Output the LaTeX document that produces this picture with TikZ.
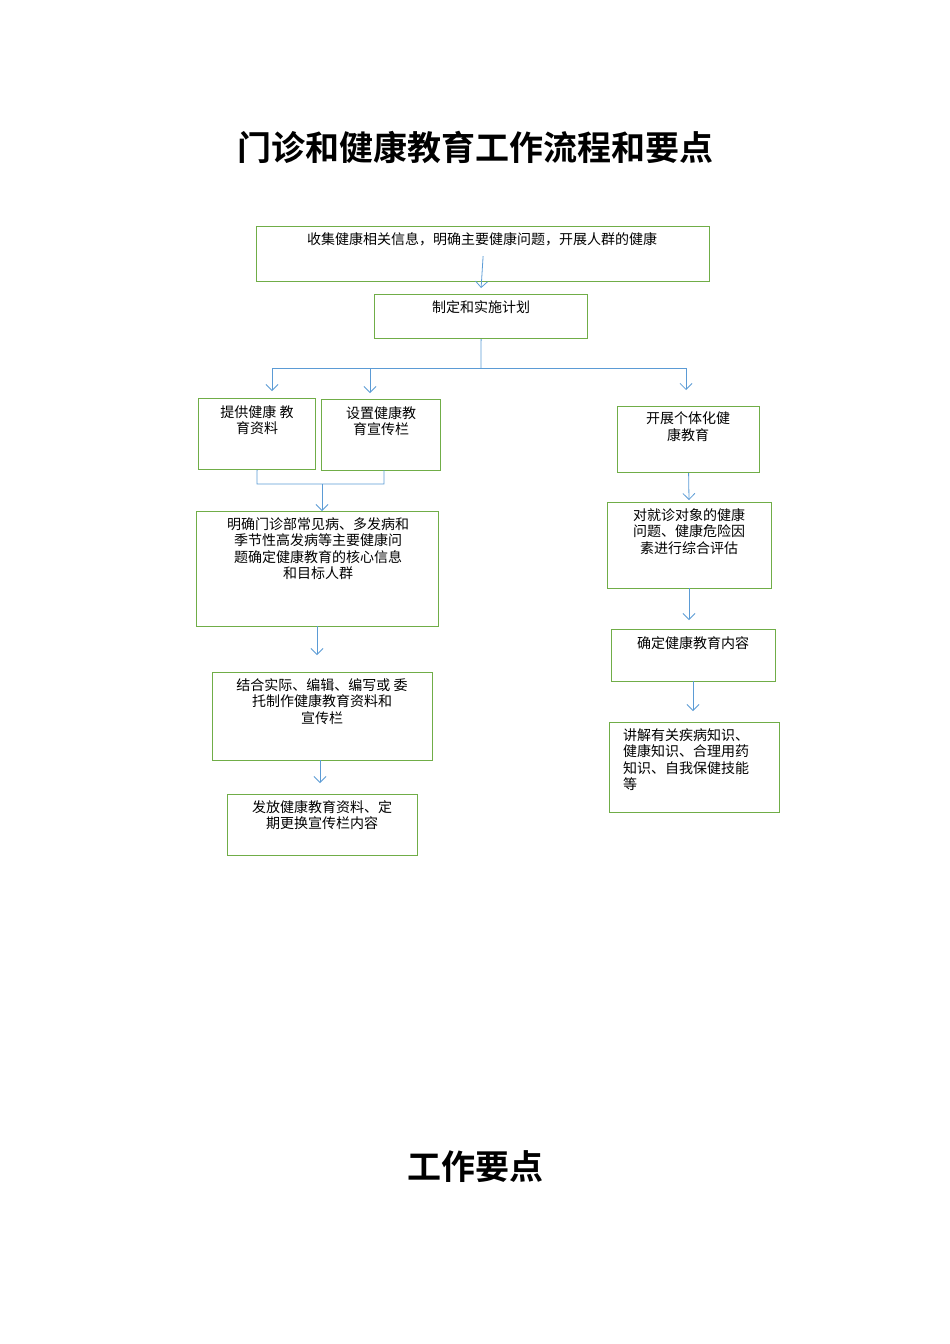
\documentclass[tikz,border=0pt]{standalone}
\usepackage{fontspec}
\setmainfont{Noto Sans CJK SC}
\newfontfamily\cjkb{Noto Sans CJK SC Bold}
\usetikzlibrary{arrows.meta,calc}
\begin{document}
\begin{tikzpicture}[x=1pt,y=-1pt,
  box/.style={draw=grn,line width=1.2pt,anchor=north west,inner sep=0pt},
  txt/.style={anchor=north,align=center,font=\fontsize{14}{16.5}\selectfont,inner sep=0pt},
  arr/.style={draw=blu,line width=0.8pt,-{Straight Barb[length=6pt,width=12pt]}},
  ln/.style={draw=blu,line width=0.8pt}]
\definecolor{grn}{RGB}{112,173,71}
\definecolor{blu}{RGB}{91,155,213}
\useasboundingbox (0,0) rectangle (950,1344);
\node[font=\cjkb\fontsize{34}{38}\selectfont] (title) at (475,147) {门诊和健康教育工作流程和要点};
\node[font=\cjkb\fontsize{34}{38}\selectfont] (title2) at (475,1167) {工作要点};
% boxes
\node[box,minimum width=453,minimum height=55] (b1) at (256,226) {};
\node[txt] (t1) at (482,232) {收集健康相关信息，明确主要健康问题，开展人群的健康};
\node[box,minimum width=213,minimum height=44] (b2) at (374,294) {};
\node[txt] (t2) at (481,300) {制定和实施计划};
\node[box,minimum width=117,minimum height=71] (b3) at (198,398) {};
\node[txt] (t3) at (257,405) {提供健康 教\\育资料};
\node[box,minimum width=119,minimum height=71] (b4) at (321,399) {};
\node[txt] (t4) at (381,406) {设置健康教\\育宣传栏};
\node[box,minimum width=242,minimum height=115] (b5) at (196,511) {};
\node[txt] (t5) at (318,517) {明确门诊部常见病、多发病和\\季节性高发病等主要健康问\\题确定健康教育的核心信息\\和目标人群};
\node[box,minimum width=220,minimum height=88] (b6) at (212,672) {};
\node[txt] (t6) at (322,678) {结合实际、编辑、编写或 委\\托制作健康教育资料和\\宣传栏};
\node[box,minimum width=190,minimum height=61] (b7) at (227,794) {};
\node[txt] (t7) at (322,800) {发放健康教育资料、定\\期更换宣传栏内容};
\node[box,minimum width=142,minimum height=66] (b8) at (617,406) {};
\node[txt] (t8) at (688,412) {开展个体化健\\康教育};
\node[box,minimum width=164,minimum height=86] (b9) at (607,502) {};
\node[txt] (t9) at (689,508) {对就诊对象的健康\\问题、健康危险因\\素进行综合评估};
\node[box,minimum width=164,minimum height=52] (b10) at (611,629) {};
\node[txt] (t10) at (693,636) {确定健康教育内容};
\node[box,minimum width=170,minimum height=90] (b11) at (609,722) {};
\node[txt,anchor=north west,align=left] (t11) at (623,728) {讲解有关疾病知识、\\健康知识、合理用药\\知识、自我保健技能\\等};
% connectors
\coordinate (s1) at ($(b1.south)+(0,-26)$);
\draw[arr] (s1) -- ($(b2.north)+(0,-6)$);
\coordinate (h) at (481,368);
\draw[ln] (b2.south) -- (h);
\draw[ln] (272,368) -- (686,368);
\draw[arr] (272,368) -- (272,391);
\draw[arr] (370,368) -- (370,393);
\draw[arr] (686,368) -- (686,390);
\draw[ln] (b3.south) -- (257,484) -- (384,484) -- (384,470);
\draw[arr] (322,484) -- (b5.north -| 322,0);
\draw[arr] (317,626) -- (317,655);
\draw[arr] (320,760) -- (320,783);
\draw[arr] (b8.south) -- (689,500);
\draw[arr] (689,588) -- (689,620);
\draw[arr] (693,681) -- (693,711);
\end{tikzpicture}
\end{document}
